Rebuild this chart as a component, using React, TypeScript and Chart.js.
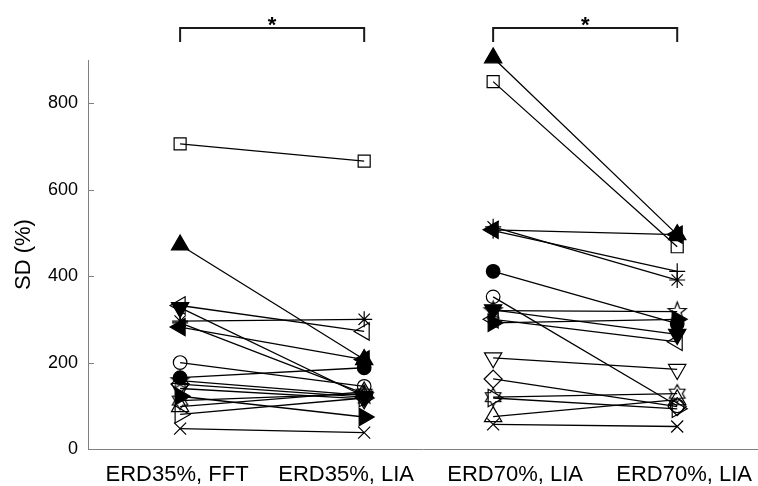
import React, { useEffect, useRef } from "react";
import { Chart, registerables } from "chart.js";
Chart.register(...registerables);

// ---- categories / axes ----
const categories = ["ERD35%, FFT", "ERD35%, LIA", "ERD70%, LIA", "ERD70%, LIA"];
const labelPositions = [1, 2, 3, 4];
const pointPositions = [1.018, 2.107, 2.87, 3.959];
const yTicks = [0, 200, 400, 600, 800];
const significancePairs = [[0, 1], [2, 3]];
const significanceLabels = ["*", "*"];

// ---- per-subject SD (%) values at the four conditions ----
const squareOpen = [706, 666, 850, 468];
const triUpFilled = [472, 207, 905, 496];
const triDownFilled = [327, 122, 322, 265];
const triLeftOpen = [332, 272, 300, 248];
const asterisk = [296, 300, 514, 391];
const triLeftFilled = [282, 207, 507, 496];
const plusMark = [292, 128, 505, 411];
const circleOpen = [200, 145, 352, 100];
const circleFilled = [165, 188, 411, 290];
const triRightFilled = [122, 74, 292, 300];
const triUpOpen = [98, 132, 75, 114];
const triRightOpen = [80, 118, 118, 93];
const crossMark = [47, 38, 57, 52];
const diamondOpen = [150, 120, 162, 98];
const hexagramOpen = [112, 128, 120, 128];
const triDownOpen = [140, 116, 211, 184];
const pentagramOpen = [158, 124, 320, 318];

function makeStarGlyph(points: number, outer: number, innerRatio: number, filled: boolean) {
  const size = Math.ceil(outer * 2 + 4);
  const c = document.createElement("canvas");
  c.width = size;
  c.height = size;
  const g = c.getContext("2d")!;
  const cx = size / 2, cy = size / 2;
  g.beginPath();
  for (let i = 0; i < points * 2; i++) {
    const r = i % 2 === 0 ? outer : outer * innerRatio;
    const a = -Math.PI / 2 + (i * Math.PI) / points;
    const px = cx + r * Math.cos(a), py = cy + r * Math.sin(a);
    if (i === 0) g.moveTo(px, py);
    else g.lineTo(px, py);
  }
  g.closePath();
  g.lineWidth = 1.2;
  g.strokeStyle = "#000";
  if (filled) { g.fillStyle = "#000"; g.fill(); }
  g.stroke();
  return c;
}

type Marker = { values: number[]; style: any; rotation?: number; filled: boolean; radius: number };

const markers: Marker[] = [
  { values: squareOpen, style: "rect", filled: false, radius: 8.5 },
  { values: triUpFilled, style: "triangle", filled: true, radius: 10 },
  { values: triDownFilled, style: "triangle", rotation: 180, filled: true, radius: 10 },
  { values: triLeftOpen, style: "triangle", rotation: -90, filled: false, radius: 10 },
  { values: asterisk, style: "star", filled: false, radius: 8 },
  { values: triLeftFilled, style: "triangle", rotation: -90, filled: true, radius: 10 },
  { values: plusMark, style: "cross", filled: false, radius: 8 },
  { values: circleOpen, style: "circle", filled: false, radius: 6.8 },
  { values: circleFilled, style: "circle", filled: true, radius: 6.8 },
  { values: triRightFilled, style: "triangle", rotation: 90, filled: true, radius: 10 },
  { values: triUpOpen, style: "triangle", filled: false, radius: 10 },
  { values: triRightOpen, style: "triangle", rotation: 90, filled: false, radius: 10 },
  { values: crossMark, style: "crossRot", filled: false, radius: 8.5 },
  { values: diamondOpen, style: "rectRot", filled: false, radius: 9 },
  { values: hexagramOpen, style: "hexagram", filled: false, radius: 9 },
  { values: triDownOpen, style: "triangle", rotation: 180, filled: false, radius: 10 },
  { values: pentagramOpen, style: "pentagram", filled: false, radius: 9 },
];

const bracketPlugin = {
  id: "brackets",
  afterDraw(chart: any) {
    const { ctx, scales } = chart;
    const x = scales.x;
    ctx.save();
    ctx.strokeStyle = "#1a1a1a";
    ctx.fillStyle = "#000";
    ctx.lineWidth = 2;
    significancePairs.forEach(([a, b], i) => {
      const x1 = x.getPixelForValue(pointPositions[a]);
      const x2 = x.getPixelForValue(pointPositions[b]);
      ctx.beginPath();
      ctx.moveTo(x1, 42);
      ctx.lineTo(x1, 28);
      ctx.lineTo(x2, 28);
      ctx.lineTo(x2, 42);
      ctx.stroke();
      ctx.font = 'bold 22px "Liberation Sans", Arial, sans-serif';
      ctx.textAlign = "center";
      ctx.textBaseline = "alphabetic";
      ctx.fillText(significanceLabels[i], (x1 + x2) / 2, 32);
    });
    ctx.restore();
  },
};

const inwardTicksPlugin = {
  id: "inwardTicks",
  afterDraw(chart: any) {
    const { ctx, scales, chartArea } = chart;
    const y = scales.y;
    ctx.save();
    ctx.strokeStyle = "#808080";
    ctx.lineWidth = 1;
    yTicks.forEach((v) => {
      const py = Math.round(y.getPixelForValue(v)) + 0.5;
      ctx.beginPath();
      ctx.moveTo(chartArea.left, py);
      ctx.lineTo(chartArea.left + 6, py);
      ctx.stroke();
    });
    ctx.restore();
  },
};

function zeroPadding(axis: any) {
  axis.paddingLeft = 0;
  axis.paddingRight = 0;
  axis.paddingTop = 0;
  axis.paddingBottom = 0;
}

export default function App() {
  const ref = useRef<HTMLCanvasElement>(null);
  useEffect(() => {
    const hexImg = makeStarGlyph(6, 9, 0.577, false);
    const pentImg = makeStarGlyph(5, 9.5, 0.42, false);
    const datasets = markers.map((m) => {
      const pts: any[] = [];
      m.values.forEach((v, i) => {
        if (i === 2) pts.push({ x: (pointPositions[1] + pointPositions[2]) / 2, y: null });
        pts.push({ x: pointPositions[i], y: v });
      });
      const style = m.style === "hexagram" ? hexImg : m.style === "pentagram" ? pentImg : m.style;
      return {
        data: pts,
        borderColor: "#000",
        borderWidth: 1.3,
        pointStyle: style,
        pointRotation: m.rotation || 0,
        pointRadius: m.radius,
        pointHoverRadius: m.radius,
        pointBorderColor: "#000",
        pointBorderWidth: 1.2,
        pointBackgroundColor: m.filled ? "#000" : "rgba(0,0,0,0)",
        spanGaps: false,
        fill: false,
        tension: 0,
        clip: false as any,
      };
    });
    const chart = new Chart(ref.current!, {
      type: "line",
      data: { datasets },
      options: {
        animation: false,
        responsive: false,
        maintainAspectRatio: false,
        layout: { autoPadding: false, padding: { top: 60, right: 0, left: 0, bottom: 0 } },
        plugins: { legend: { display: false }, tooltip: { enabled: false } },
        scales: {
          x: {
            type: "linear",
            min: 0.473,
            max: 4.437,
            afterBuildTicks: (axis: any) => {
              axis.ticks = labelPositions.map((v) => ({ value: v }));
            },
            afterFit: (axis: any) => {
              axis.height = 37;
              zeroPadding(axis);
            },
            ticks: {
              autoSkip: false,
              maxRotation: 0,
              padding: 13,
              color: "#000",
              font: { family: '"Liberation Sans", Arial, sans-serif', size: 22 },
              callback: (val: any) => {
                const i = labelPositions.indexOf(Number(val));
                return i >= 0 ? categories[i] : "";
              },
            },
            grid: { display: false, drawTicks: false },
            border: { display: true, color: "#808080", width: 1 },
          },
          y: {
            min: 0,
            max: 900,
            afterBuildTicks: (axis: any) => {
              axis.ticks = yTicks.map((v) => ({ value: v }));
            },
            afterFit: (axis: any) => {
              axis.width = 88;
              zeroPadding(axis);
            },
            ticks: {
              padding: 10,
              color: "#000",
              font: { family: '"Liberation Sans", Arial, sans-serif', size: 18 },
            },
            grid: { display: false, drawTicks: false },
            border: { display: true, color: "#808080", width: 1 },
            title: {
              display: true,
              text: "SD (%)",
              color: "#000",
              padding: { top: 11, bottom: 0 },
              font: { family: '"Liberation Sans", Arial, sans-serif', size: 22 },
            },
          },
        },
      },
      plugins: [bracketPlugin, inwardTicksPlugin],
    });
    return () => chart.destroy();
  }, []);
  return (
    <div style={{ position: "fixed", left: 0, top: 0, width: 758, height: 486, background: "#fff" }}>
      <canvas ref={ref} width={758} height={486} style={{ width: 758, height: 486 }} />
    </div>
  );
}
